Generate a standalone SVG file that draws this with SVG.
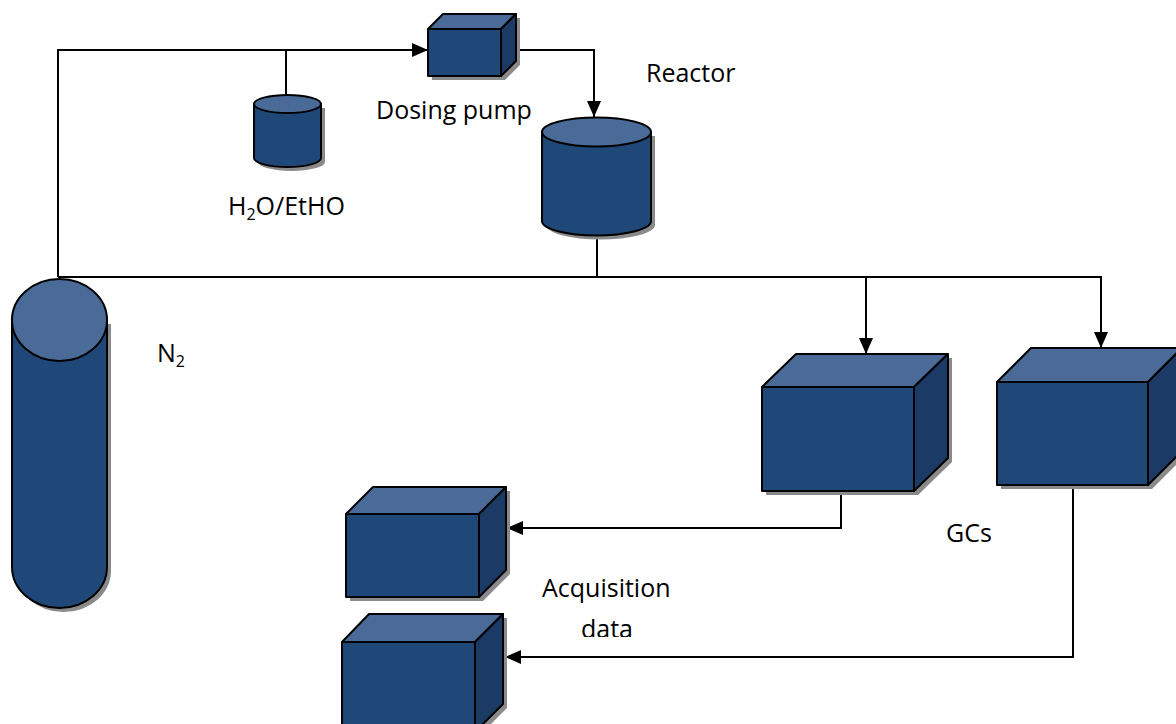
<svg xmlns="http://www.w3.org/2000/svg" width="1176" height="724" viewBox="0 0 1176 724">
<defs>
<marker id="arr" markerWidth="16" markerHeight="14" viewBox="0 0 16 14" refX="16" refY="7" orient="auto" markerUnits="userSpaceOnUse">
<path d="M0,0 L16,7 L0,14 Z" fill="#000"/>
</marker>
<clipPath id="clipData"><rect x="0" y="0" width="1176" height="637"/></clipPath>
</defs>
<style>
.front{fill:#1f4878;stroke:#000;stroke-width:2;stroke-linejoin:round}
.top{fill:#4a6b97;stroke:#000;stroke-width:2;stroke-linejoin:round}
.side{fill:#1b3b66;stroke:#000;stroke-width:2;stroke-linejoin:round}
.shadow{fill:#8a8a8a;stroke:none}
.line{fill:none;stroke:#000;stroke-width:2}
.arrow{fill:none;stroke:#000;stroke-width:2;marker-end:url(#arr)}
.lbl{font-family:"Open Sans","Liberation Sans",sans-serif;font-size:25px;fill:#000}
</style>
<rect width="1176" height="724" fill="#fff"/>

<g id="connectors">
<path class="arrow" d="M58,277 L58,50 L428,50"/>
<path class="line" d="M286,50 L286,96"/>
<path class="arrow" d="M501,50 L594,50 L594,117"/>
<path class="line" d="M597,235 L597,277"/>
<path class="line" d="M58,277 L1102,277"/>
<path class="arrow" d="M866,277 L866,354"/>
<path class="arrow" d="M1101,277 L1101,348"/>
<path class="arrow" d="M841,491 L841,528 L507,528"/>
<path class="arrow" d="M1073,485 L1073,657 L505,657"/>
</g>

<g id="n2-cylinder">
<path class="shadow" d="M16,324 L16,571 A47.5,41 0 0 0 111,571 L111,324 Z"/>
<path class="front" d="M12,320 L12,567 A47.5,41 0 0 0 107,567 L107,320 Z"/>
<ellipse class="top" cx="59.5" cy="320" rx="47.5" ry="41"/>
</g>

<g id="h2o-tank">
<path class="shadow" d="M258,108 L258,162 A33.5,9 0 0 0 325,162 L325,108 Z"/>
<path class="front" d="M254,104 L254,158 A33.5,9 0 0 0 321,158 L321,104 Z"/>
<ellipse class="top" cx="287.5" cy="104" rx="33.5" ry="9"/>
</g>

<g id="reactor">
<path class="shadow" d="M546,136 L546,225 A54.5,14.5 0 0 0 655,225 L655,136 Z"/>
<path class="front" d="M542,132 L542,221 A54.5,14.5 0 0 0 651,221 L651,132 Z"/>
<ellipse class="top" cx="596.5" cy="132" rx="54.5" ry="14.5"/>
</g>

<g id="dosing-pump">
<path class="shadow" d="M432,33 L447,18 L520,18 L520,65 L505,80 L432,80 Z"/>
<rect class="front" x="428" y="29" width="73" height="47"/>
<path class="top" d="M428,29 L443,14 L516,14 L501,29 Z"/>
<path class="side" d="M501,29 L516,14 L516,61 L501,76 Z"/>
</g>

<g id="gc1">
<path class="shadow" d="M766,391 L800,358 L952,358 L952,462 L918,495 L766,495 Z"/>
<rect class="front" x="762" y="387" width="152" height="104"/>
<path class="top" d="M762,387 L796,354 L948,354 L914,387 Z"/>
<path class="side" d="M914,387 L948,354 L948,458 L914,491 Z"/>
</g>

<g id="gc2">
<path class="shadow" d="M1001,386 L1035,352 L1186,352 L1186,455 L1152,489 L1001,489 Z"/>
<rect class="front" x="997" y="382" width="151" height="103"/>
<path class="top" d="M997,382 L1031,348 L1182,348 L1148,382 Z"/>
<path class="side" d="M1148,382 L1182,348 L1182,451 L1148,485 Z"/>
</g>

<g id="acq1">
<path class="shadow" d="M350,518 L377,491 L510,491 L510,574 L483,601 L350,601 Z"/>
<rect class="front" x="346" y="514" width="133" height="83"/>
<path class="top" d="M346,514 L373,487 L506,487 L479,514 Z"/>
<path class="side" d="M479,514 L506,487 L506,570 L479,597 Z"/>
</g>

<g id="acq2">
<path class="shadow" d="M346,646 L373,618 L507,618 L507,708 L479,736 L346,736 Z"/>
<rect class="front" x="342" y="642" width="133" height="94"/>
<path class="top" d="M342,642 L369,614 L503,614 L475,642 Z"/>
<path class="side" d="M475,642 L503,614 L503,704 L475,732 Z"/>
</g>

<g id="labels">
<text class="lbl" x="646" y="82">Reactor</text>
<text class="lbl" x="376" y="119">Dosing pump</text>
<text class="lbl" x="228" y="215">H<tspan font-size="16" dy="5">2</tspan><tspan dy="-5">O/EtHO</tspan></text>
<text class="lbl" x="157" y="362">N<tspan font-size="16" dy="5">2</tspan></text>
<text class="lbl" x="946" y="542">GCs</text>
<text class="lbl" x="542" y="597">Acquisition</text>
<text class="lbl" x="581" y="638" clip-path="url(#clipData)">data</text>
</g>
</svg>
